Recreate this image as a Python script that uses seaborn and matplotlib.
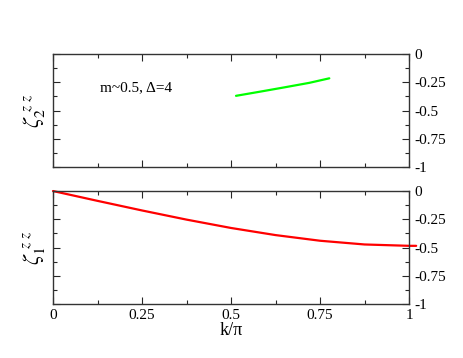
import numpy as np
import pandas as pd
import seaborn as sns
import matplotlib.pyplot as plt
from matplotlib.ticker import MultipleLocator

# data
k_top = [0.514, 0.58, 0.65, 0.72, 0.776]
zeta2 = [-0.37, -0.334, -0.295, -0.255, -0.215]

k_bot = [0.0, 0.125, 0.25, 0.375, 0.5, 0.625, 0.75, 0.875, 1.0, 1.02]
zeta1 = [0.0, -0.087, -0.172, -0.253, -0.327, -0.39, -0.44, -0.473, -0.485, -0.485]

xticks = [0, 0.25, 0.5, 0.75, 1]
xticklabels = ['0', '0.25', '0.5', '0.75', '1']
yticks = [0, -0.25, -0.5, -0.75, -1]
yticklabels = ['0', '-0.25', '-0.5', '-0.75', '-1']

sns.set_style('ticks')
plt.rcParams['font.family'] = ['Liberation Serif', 'DejaVu Serif']
plt.rcParams['mathtext.fontset'] = 'stix'

fig = plt.figure(figsize=(4.63, 3.58), dpi=100)
ax1 = fig.add_axes([0.1145, 0.5335, 0.769, 0.3156])
ax2 = fig.add_axes([0.1145, 0.1508, 0.769, 0.3156])

df_top = pd.DataFrame({'k': k_top, 'z': zeta2})
df_bot = pd.DataFrame({'k': k_bot, 'z': zeta1})
sns.lineplot(data=df_top, x='k', y='z', ax=ax1, color='#00ff00', lw=1.6)
sns.lineplot(data=df_bot, x='k', y='z', ax=ax2, color='#ff0000', lw=1.6, clip_on=False)

for ax in (ax1, ax2):
    ax.set_xlim(0, 1)
    ax.set_ylim(-1, 0)
    ax.set_xticks(xticks)
    ax.set_yticks(yticks)
    ax.set_yticklabels(yticklabels)
    ax.xaxis.set_minor_locator(MultipleLocator(0.125))
    ax.yaxis.set_minor_locator(MultipleLocator(0.125))
    ax.tick_params(which='both', direction='in', top=True, left=True, right=True,
                   labelleft=False, labelright=True, labelsize=11, width=0.8,
                   labelcolor='black')
    ax.tick_params(which='major', length=5)
    ax.tick_params(which='minor', length=3)
    for s in ax.spines.values():
        s.set_linewidth(1.0)
        s.set_color('#333333')
    ax.set_xlabel('')

ax1.set_xticklabels([])
ax2.set_xticklabels(xticklabels)
ax2.set_xlabel('k/\u03c0', fontsize=13, labelpad=0, color='black')

ax1.set_ylabel(r'$\zeta_2^{\ z\ z}$', fontsize=16, labelpad=4, color='black')
ax2.set_ylabel(r'$\zeta_1^{\ z\ z}$', fontsize=16, labelpad=4, color='black')

ax1.text(0.132, 0.67, 'm~0.5, \u0394=4', transform=ax1.transAxes, fontsize=11, color='black')

fig.savefig('out.png', dpi=100)
